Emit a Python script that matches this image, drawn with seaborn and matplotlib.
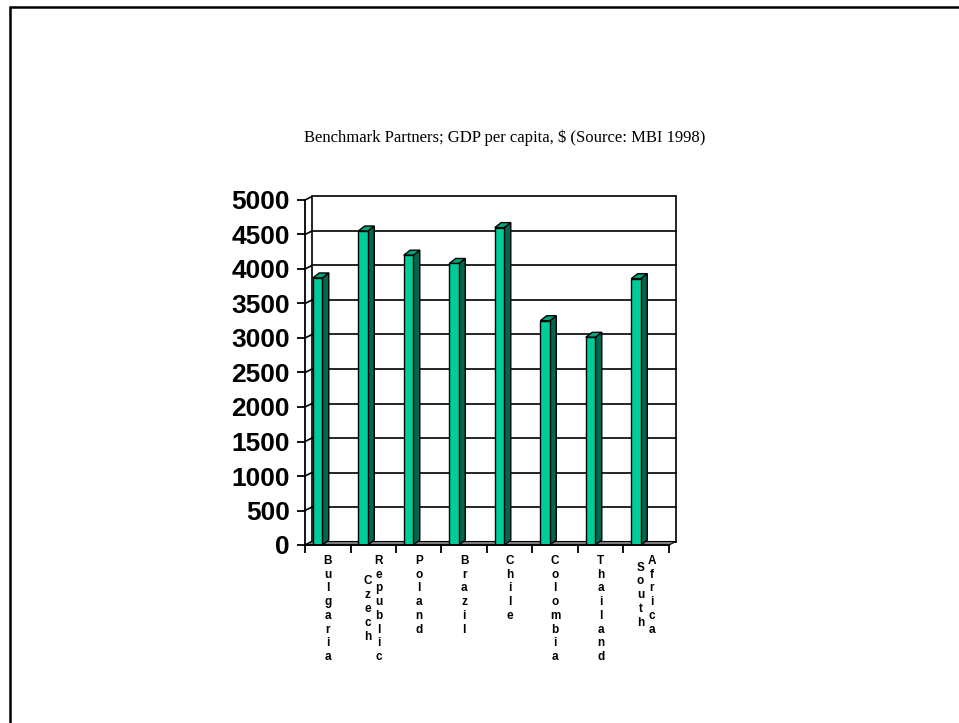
import numpy as np
import pandas as pd
import matplotlib
matplotlib.use("Agg")
import matplotlib.pyplot as plt
import seaborn as sns
from matplotlib.patches import Polygon
from matplotlib.lines import Line2D
from matplotlib.transforms import IdentityTransform

countries = ["Bulgaria", "Czech Republic", "Poland", "Brazil", "Chile",
             "Colombia", "Thailand", "South Africa"]
gdp = [3870, 4550, 4200, 4080, 4600, 3250, 3010, 3860]
yticks = [0, 500, 1000, 1500, 2000, 2500, 3000, 3500, 4000, 4500, 5000]
title = "Benchmark Partners; GDP per capita, $ (Source: MBI 1998)"

sns.set_theme(style="white")
plt.rcParams['font.family'] = ['Liberation Sans', 'DejaVu Sans']
plt.rcParams['text.color'] = 'black'
plt.rcParams['xtick.color'] = 'black'
plt.rcParams['ytick.color'] = 'black'

W, H = 959, 723
fig = plt.figure(figsize=(W / 100, H / 100), dpi=100)
fig.patch.set_facecolor("white")
ax = fig.add_axes([305 / W, (H - 545) / H, 364 / W, 345 / H])
ax.set_facecolor("none")

df = pd.DataFrame({"country": countries, "gdp": gdp})
sns.barplot(data=df, x="country", y="gdp", width=0.21, color="#00CC99",
            saturation=1, edgecolor="black", linewidth=1.0, ax=ax, zorder=4)

x0, x1 = -0.275, 7.725
ax.set_xlim(x0, x1)
ax.set_ylim(0, 5000)
ax.set_xlabel("")
ax.set_ylabel("")
for s in ["top", "right"]:
    ax.spines[s].set_visible(False)
for s in ["left", "bottom"]:
    ax.spines[s].set_color("black")
    ax.spines[s].set_linewidth(1.3)
    ax.spines[s].set_zorder(6)

bounds = [k + x0 for k in range(len(countries) + 1)]
ax.set_xticks(bounds)
ax.set_xticklabels([])
ax.set_yticks(yticks)
ax.set_yticklabels([str(v) for v in yticks], fontsize=19, fontweight="bold",
                   color="black")
ax.tick_params(axis="both", direction="out", length=6, width=1.3,
               color="black", bottom=True, left=True)
ax.tick_params(axis="y", pad=5)
ax.tick_params(axis="x", pad=2)

T = ax.transData
ID = IdentityTransform()
wall = np.array([7.0, 3.5])   # depth of walls (pixels)
bd = np.array([6.5, 5.0])     # depth of bars (pixels)

def P(x, y):
    return T.transform((x, y))

# back wall gridlines and edges
for v in yticks:
    a = P(x0, v) + wall
    b = P(x1, v) + wall
    ax.add_line(Line2D([a[0], b[0]], [a[1], b[1]], color="black", lw=1.2,
                       transform=ID, zorder=1, clip_on=False))
    f = P(x0, v)
    ax.add_line(Line2D([f[0], a[0]], [f[1], a[1]], color="black", lw=1.2,
                       transform=ID, zorder=1, clip_on=False))
for xx in (x0, x1):
    a = P(xx, 0) + wall
    b = P(xx, 5000) + wall
    ax.add_line(Line2D([a[0], b[0]], [a[1], b[1]], color="black", lw=1.2,
                       transform=ID, zorder=1, clip_on=False))

# floor
fl = [P(x0, 0), P(x1, 0), P(x1, 0) + wall, P(x0, 0) + wall]
ax.add_patch(Polygon(fl, closed=True, facecolor="#808080", edgecolor="black",
                     lw=0.8, transform=ID, zorder=2, clip_on=False))

# 3D faces of bars
for p in ax.patches[:]:
    if not hasattr(p, "get_x") or p.get_height() <= 0:
        continue
    bx, bw, bh = p.get_x(), p.get_width(), p.get_height()
    tl, tr, br = P(bx, bh), P(bx + bw, bh), P(bx + bw, 0)
    side = [br, tr, tr + bd, br + bd]
    top = [tl, tr, tr + bd, tl + bd]
    ax.add_patch(Polygon(side, closed=True, facecolor="#006650",
                         edgecolor="black", lw=1.0, transform=ID, zorder=3.9,
                         clip_on=False))
    ax.add_patch(Polygon(top, closed=True, facecolor="#00A67C",
                         edgecolor="black", lw=1.0, transform=ID, zorder=3.9,
                         clip_on=False))

# vertical stacked category labels
step = 13.8
first_y = H - 560.7
col_gap = 11.3
for i, name in enumerate(countries):
    cx = P(i + 0.225, 0)[0]
    words = name.split()
    nmax = max(len(w) for w in words)
    ncol = len(words)
    for j, w in enumerate(words):
        wx = cx + (j - (ncol - 1) / 2) * col_gap
        off = (nmax - len(w)) / 2 * step
        for k, ch in enumerate(w):
            y = first_y - off - k * step
            fig.text(wx / W, y / H, ch, ha="center", va="center",
                     fontsize=8.5, fontweight="bold", color="black")

fig.text(505 / W, (H - 138) / H, title, ha="center", va="center",
         fontsize=12, family=["Liberation Serif", "DejaVu Serif"], color="black")

# page frame
fig.add_artist(Line2D([10 / W, 10 / W], [0, (H - 7) / H], color="black",
                      lw=1.8, transform=fig.transFigure))
fig.add_artist(Line2D([10 / W, 1], [(H - 7) / H, (H - 7) / H], color="black",
                      lw=1.8, transform=fig.transFigure))

fig.savefig("out.png", dpi=100, facecolor="white")
